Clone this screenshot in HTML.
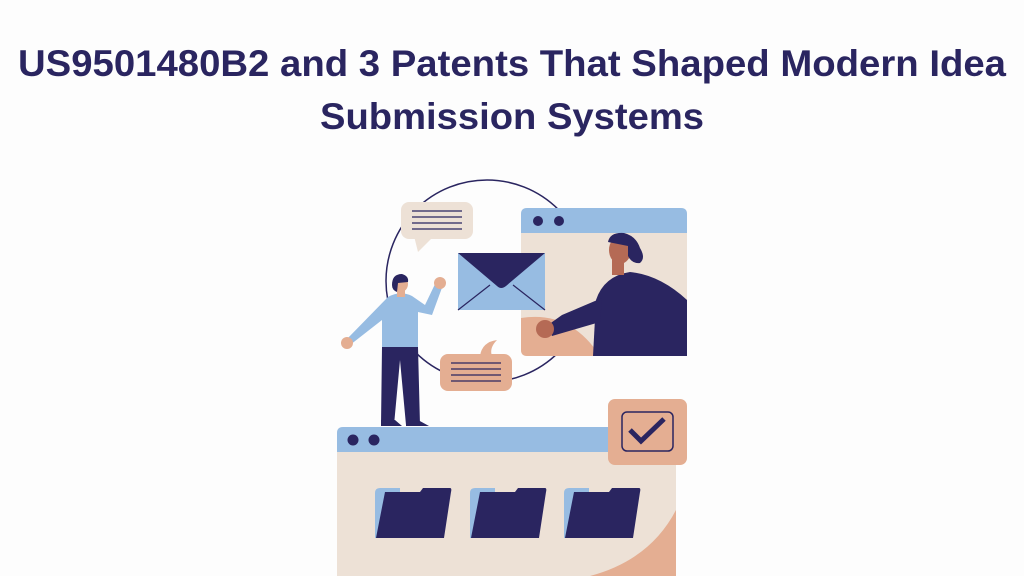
<!DOCTYPE html>
<html><head><meta charset="utf-8"><style>
html,body{margin:0;padding:0;background:#fff;width:1024px;height:576px;overflow:hidden}
svg{display:block}
</style></head><body>
<svg width="1024" height="576" viewBox="0 0 1024 576" xmlns="http://www.w3.org/2000/svg">
<rect width="1024" height="576" fill="#fdfdfd"/>
<g font-family="Liberation Sans, sans-serif" font-weight="bold" fill="#2a2560" font-size="37">
<text x="18" y="76" textLength="988" lengthAdjust="spacingAndGlyphs">US9501480B2 and 3 Patents That Shaped Modern Idea</text>
<text x="320" y="129" textLength="384" lengthAdjust="spacingAndGlyphs">Submission Systems</text>
</g>
<circle cx="487" cy="281" r="101" fill="none" stroke="#2a2560" stroke-width="1.5"/>
<rect x="401" y="202" width="72" height="37" rx="8" fill="#ede1d6"/>
<path d="M414 236 L418 252 L432 238 Z" fill="#ede1d6"/>
<g stroke="#2a2560" stroke-width="1.2"><line x1="412" y1="211" x2="462" y2="211"/><line x1="412" y1="217" x2="462" y2="217"/><line x1="412" y1="223" x2="462" y2="223"/><line x1="412" y1="229" x2="462" y2="229"/></g>
<rect x="521" y="208" width="166" height="148" rx="6" fill="#ede1d6"/>
<path d="M521 318 Q570 310 600 356 L527 356 Q521 356 521 350Z" fill="#e4ae92"/>
<path d="M527 208 H681 Q687 208 687 214 V233 H521 V214 Q521 208 527 208Z" fill="#97bce2"/>
<circle cx="538" cy="221" r="5" fill="#2a2560"/><circle cx="559" cy="221" r="5" fill="#2a2560"/>
<!-- woman -->
<path d="M593 356 L596 300 Q604 276 630 272 Q660 275 687 300 V356Z" fill="#2a2560"/>
<path d="M602 298 L562 315 L548 325 L552 336 L600 322Z" fill="#2a2560"/>
<circle cx="545" cy="329" r="9" fill="#b56a55"/>
<rect x="612" y="258" width="12" height="17" fill="#b56a55"/>
<ellipse cx="620" cy="250" rx="11" ry="14" fill="#b56a55"/>
<path d="M608 242 Q610 232 624 233 Q636 236 640 248 Q646 258 640 263 Q632 264 628 256 L628 246 Q618 244 608 242Z" fill="#2a2560"/>
<rect x="458" y="253" width="87" height="57" fill="#97bce2"/>
<path d="M458 253 H545 L506 286 Q501 290 497 286Z" fill="#2a2560"/>
<path d="M458 310 L490 285 M545 310 L513 285" stroke="#2a2560" stroke-width="1.2"/>
<rect x="440" y="354" width="72" height="37" rx="8" fill="#e4ae92"/>
<path d="M480 356 Q482 342 497 340 Q489 348 492 356Z" fill="#e4ae92"/>
<g stroke="#2a2560" stroke-width="1.2"><line x1="451" y1="363" x2="501" y2="363"/><line x1="451" y1="369" x2="501" y2="369"/><line x1="451" y1="375" x2="501" y2="375"/><line x1="451" y1="381" x2="501" y2="381"/></g>
<rect x="337" y="427" width="339" height="160" rx="6" fill="#ede1d6"/>
<path d="M676 510 Q650 560 590 576 H676Z" fill="#e4ae92"/>
<path d="M343 427 H670 Q676 427 676 433 V452 H337 V433 Q337 427 343 427Z" fill="#97bce2"/>
<circle cx="353" cy="440" r="5.5" fill="#2a2560"/><circle cx="374" cy="440" r="5.5" fill="#2a2560"/>
<g>
<path d="M375 493 Q375 488 380 488 H400 V538 H375Z" fill="#97bce2"/>
<path d="M385 492 H420 L423 488 H450 Q452 488 451 492 L444 538 H376Z" fill="#2a2560"/>
<path d="M470 493 Q470 488 475 488 H495 V538 H470Z" fill="#97bce2"/>
<path d="M480 492 H515 L518 488 H545 Q547 488 546 492 L539 538 H471Z" fill="#2a2560"/>
<path d="M564 493 Q564 488 569 488 H589 V538 H564Z" fill="#97bce2"/>
<path d="M574 492 H609 L612 488 H639 Q641 488 640 492 L633 538 H565Z" fill="#2a2560"/>
</g>
<rect x="608" y="399" width="79" height="66" rx="7" fill="#e4ae92"/>
<rect x="622" y="412" width="51" height="39" rx="5" fill="none" stroke="#2a2560" stroke-width="1.5"/>
<path d="M630 430 L641 441 L664 419" fill="none" stroke="#2a2560" stroke-width="5"/>
<path d="M382 347 H418 L420 425 H406 L400 360 L394 425 H381Z" fill="#2a2560"/>
<path d="M381 420 H395 L402 426 H381Z M406 420 H418 L429 426 H406Z" fill="#2a2560"/>
<path d="M388 297 Q400 290 412 296 L425 305 L436 282 L443 285 L432 315 L418 312 V347 H382 V320 L350 345 L346 340Z" fill="#97bce2"/>
<circle cx="347" cy="343" r="6" fill="#e4ae92"/>
<circle cx="440" cy="283" r="6" fill="#e4ae92"/>
<rect x="397" y="288" width="8" height="9" fill="#e4ae92"/>
<ellipse cx="401" cy="284" rx="7" ry="8" fill="#e4ae92"/>
<path d="M392 285 Q392 274 402 274 Q409 276 408 282 L398 283 L397 292 Q392 290 392 285Z" fill="#2a2560"/>
</svg>
</body></html>
